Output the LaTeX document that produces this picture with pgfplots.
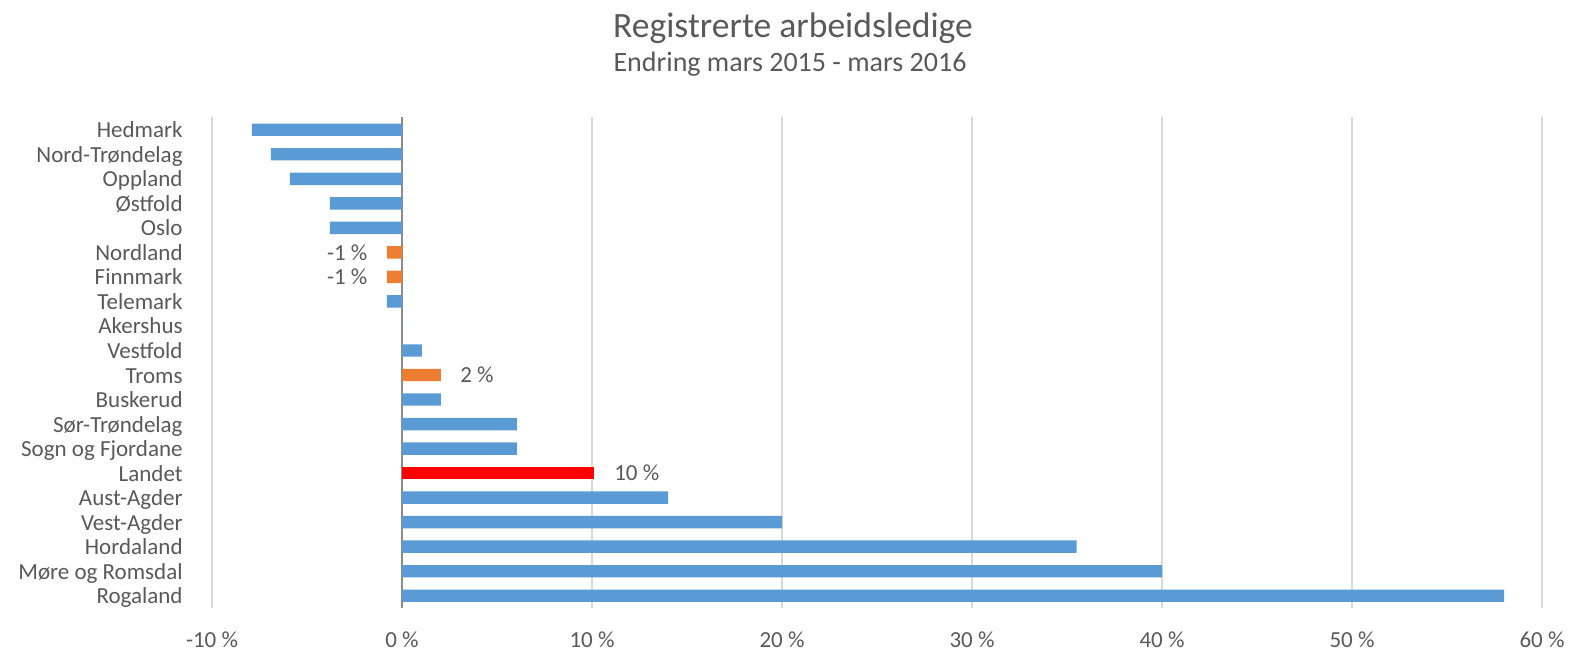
\documentclass[border=0pt]{standalone}
\usepackage{fontspec}
\setmainfont{Carlito}
\usepackage{pgfplots}
\pgfplotsset{compat=1.18}
\definecolor{barblue}{HTML}{5B9BD5}
\definecolor{barorange}{HTML}{ED7D31}
\definecolor{barred}{HTML}{FF0000}
\definecolor{txtgray}{HTML}{595959}
\definecolor{gridgray}{HTML}{D9D9D9}
\definecolor{zerogray}{HTML}{8C8C8C}
\begin{document}
\begin{tikzpicture}
\useasboundingbox (0,0) rectangle (788bp,326bp);
\begin{axis}[
  at={(106bp,22bp)}, anchor=south west,
  scale only axis, width=665bp, height=245.25bp,
  xmin=-10, xmax=60, ymin=-0.5, ymax=19.5,
  xtick={-10,0,10,20,30,40,50,60},
  xticklabels={-10 \%,0 \%,10 \%,20 \%,30 \%,40 \%,50 \%,60 \%},
  ytick={0,...,19},
  yticklabels={Rogaland,Møre og Romsdal,Hordaland,Vest-Agder,Aust-Agder,Landet,Sogn og Fjordane,Sør-Trøndelag,Buskerud,Troms,Vestfold,Akershus,Telemark,Finnmark,Nordland,Oslo,Østfold,Oppland,Nord-Trøndelag,Hedmark},
  axis line style={draw=none},
  major tick length=0pt,
  xmajorgrids, grid style={gridgray, line width=0.75bp},
  extra x ticks={0}, extra x tick labels={},
  extra x tick style={grid style={zerogray, line width=1bp}},
  tick label style={font=\fontsize{11.5bp}{13bp}\selectfont, text=txtgray},
  xticklabel style={anchor=base, inner sep=0pt, yshift=-19.5bp},
  yticklabel style={anchor=base east, inner sep=0pt, xshift=-14.5bp, yshift=-4bp},
  xbar, bar width=6.2bp,
  nodes near coords align=horizontal,
  /pgf/number format/assume math mode=true,
  clip=false,
]
\addplot[xbar, bar shift=0pt, fill=barblue, draw=none] coordinates {
  (58,0) (40,1) (35.5,2) (20,3) (14,4) (6.05,6) (6.05,7) (2.05,8)
  (1.05,10) (0,11) (-0.8,12) (-3.8,15) (-3.8,16) (-5.9,17) (-6.9,18) (-7.9,19)
};
\addplot[xbar, bar shift=0pt, fill=barorange, draw=none,
  point meta=explicit,
  nodes near coords={\pgfmathprintnumber{\pgfplotspointmeta}~\%},
  nodes near coords align=horizontal,
  every node near coord/.append style={font=\fontsize{11.5bp}{13bp}\selectfont, text=txtgray, inner xsep=9.5bp}]
  coordinates {
  (2.05,9) [2]
  (-0.8,13) [-1]
  (-0.8,14) [-1]
};
\addplot[xbar, bar shift=0pt, fill=barred, draw=none,
  point meta=explicit,
  nodes near coords={\pgfmathprintnumber{\pgfplotspointmeta}~\%},
  nodes near coords align=horizontal,
  every node near coord/.append style={font=\fontsize{11.5bp}{13bp}\selectfont, text=txtgray, inner xsep=10bp}]
  coordinates {
  (10.1,5) [10]
};
\end{axis}
\node[anchor=base, font=\fontsize{17.8bp}{20bp}\selectfont, text=txtgray] at (396.5bp,307bp) {Registrerte arbeidsledige};
\node[anchor=base, font=\fontsize{14bp}{16bp}\selectfont, text=txtgray] at (395bp,290bp) {Endring mars 2015 - mars 2016};
\end{tikzpicture}
\end{document}
